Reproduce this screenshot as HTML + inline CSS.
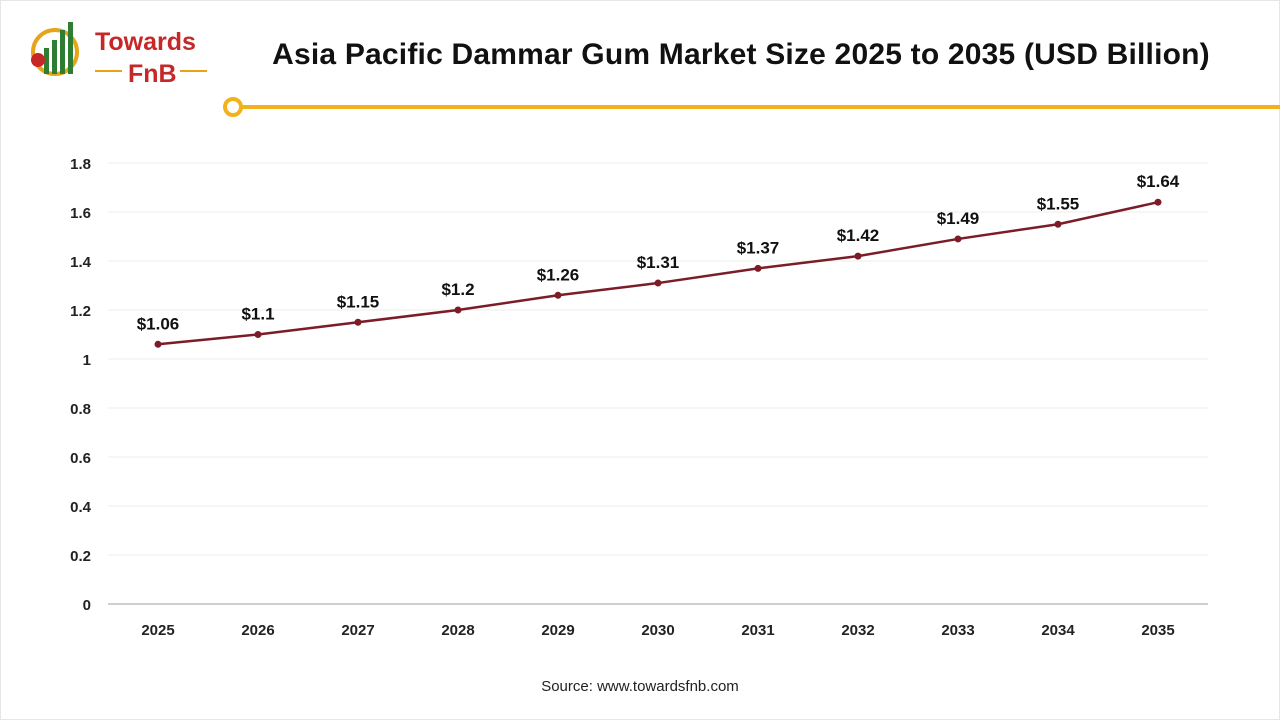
<!DOCTYPE html>
<html><head><meta charset="utf-8"><style>
html,body{margin:0;padding:0;background:#fff;}
body{width:1280px;height:720px;position:relative;overflow:hidden;font-family:"Liberation Sans",Arial,sans-serif;}
svg{position:absolute;left:0;top:0;}
</style></head><body>
<svg width="1280" height="720">
  <rect x="0.5" y="0.5" width="1279" height="719" fill="none" stroke="#e6e6e6"/>
  <g>
    <circle cx="55" cy="52" r="22" fill="none" stroke="#e8a317" stroke-width="4"/>
    <rect x="44" y="48" width="5" height="26" fill="#2e7d32"/>
    <rect x="52" y="40" width="5" height="34" fill="#2e7d32"/>
    <rect x="60" y="30" width="5" height="44" fill="#2e7d32"/>
    <rect x="68" y="22" width="5" height="52" fill="#2e7d32"/>
    <circle cx="38" cy="60" r="7" fill="#c62828"/>
    <text x="95" y="50" font-size="25" fill="#c62828" font-weight="bold">Towards</text>
    <line x1="95" y1="71" x2="122" y2="71" stroke="#e8a317" stroke-width="2"/>
    <text x="128" y="82" font-size="25" fill="#c62828" font-weight="bold">FnB</text>
    <line x1="180" y1="71" x2="207" y2="71" stroke="#e8a317" stroke-width="2"/>
  </g>
  <text x="741" y="64" text-anchor="middle" font-size="30" font-weight="bold" fill="#111" letter-spacing="0.2">Asia Pacific Dammar Gum Market Size 2025 to 2035 (USD Billion)</text>
  <line x1="241" y1="107" x2="1280" y2="107" stroke="#f2b21b" stroke-width="4"/>
  <circle cx="233" cy="107" r="8" fill="#fff" stroke="#f2b21b" stroke-width="4"/>
  <g id="grid"></g><g id="axes"></g><g id="series"></g>
  <text x="640" y="691" text-anchor="middle" font-size="15" fill="#222">Source: www.towardsfnb.com</text>
</svg>
<script>
const categories=["2025","2026","2027","2028","2029","2030","2031","2032","2033","2034","2035"];
const values=[1.06,1.1,1.15,1.2,1.26,1.31,1.37,1.42,1.49,1.55,1.64];
const valueLabels=["$1.06","$1.1","$1.15","$1.2","$1.26","$1.31","$1.37","$1.42","$1.49","$1.55","$1.64"];
const yTicks=[0,0.2,0.4,0.6,0.8,1,1.2,1.4,1.6,1.8];
const yTickLabels=["0","0.2","0.4","0.6","0.8","1","1.2","1.4","1.6","1.8"];
const NS="http://www.w3.org/2000/svg";
const L=108,R=1208,T=163,B=604,yMax=1.8;
const xs=i=>L+(R-L)/categories.length*(i+0.5);
const ys=v=>B-(B-T)*v/yMax;
function mk(tag,attrs,parent,txt){const e=document.createElementNS(NS,tag);for(const k in attrs)e.setAttribute(k,attrs[k]);if(txt!==undefined)e.textContent=txt;document.getElementById(parent).appendChild(e);return e;}
yTicks.forEach((t,i)=>{
  if(t>0){const g=mk('line',{x1:L,x2:R,y1:ys(t),y2:ys(t),stroke:'#eeeeee','stroke-width':1},'grid');
  
  }
  const lb=mk('text',{x:91,y:ys(t)+6,'text-anchor':'end','font-size':15,'font-weight':'bold',fill:'#222'},'axes',yTickLabels[i]);
  
  
});
const ax=mk('line',{x1:L,x2:R,y1:B,y2:B,stroke:'#bfbfbf','stroke-width':1.5},'axes');


categories.forEach((c,i)=>{
  const lb=mk('text',{x:xs(i),y:635,'text-anchor':'middle','font-size':15,'font-weight':'bold',fill:'#222'},'axes',c);
  
  
});
const pts=values.map((v,i)=>xs(i)+','+ys(v)).join(' ');
const line=mk('polyline',{points:pts,fill:'none',stroke:'#7b1c28','stroke-width':2.5},'series');


values.forEach((v,i)=>{
  const p=mk('circle',{cx:xs(i),cy:ys(v),r:3.5,fill:'#7b1c28'},'series');
  
  
  const t=mk('text',{x:xs(i),y:ys(v)-15,'text-anchor':'middle','font-size':17,'font-weight':'bold',fill:'#111'},'series',valueLabels[i]);
  
  
});
</script>
</body></html>
